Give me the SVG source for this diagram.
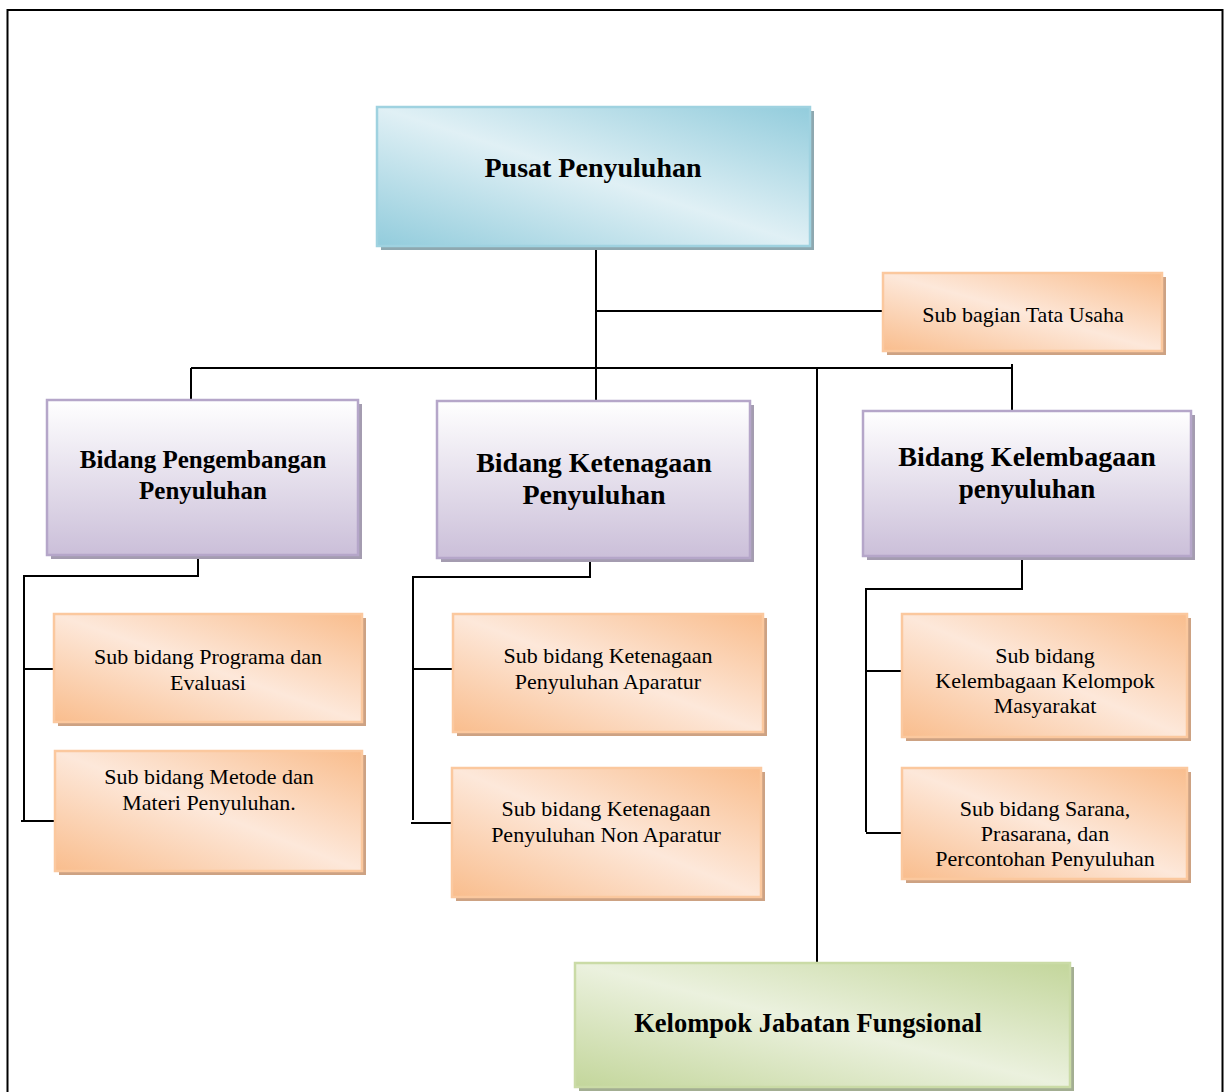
<svg xmlns="http://www.w3.org/2000/svg" width="1225" height="1092" viewBox="0 0 1225 1092">
<defs>
<linearGradient id="gBlue" x1="1" y1="0" x2="0" y2="1"><stop offset="0" stop-color="#92CCDC"/><stop offset="0.5" stop-color="#E0F0F5"/><stop offset="1" stop-color="#92CCDC"/></linearGradient>
<linearGradient id="gOrange" x1="1" y1="0" x2="0" y2="1"><stop offset="0" stop-color="#F9BD8D"/><stop offset="0.5" stop-color="#FDE8DA"/><stop offset="1" stop-color="#F9BD8D"/></linearGradient>
<linearGradient id="gGreen" x1="1" y1="0" x2="0" y2="1"><stop offset="0" stop-color="#C3D69B"/><stop offset="0.5" stop-color="#EBF1DE"/><stop offset="1" stop-color="#C3D69B"/></linearGradient>
<linearGradient id="gPurple" x1="0" y1="0" x2="0" y2="1"><stop offset="0" stop-color="#FFFFFF"/><stop offset="1" stop-color="#CBBFD9"/></linearGradient>
</defs>
<style>
.blue{fill:url(#gBlue);stroke:#9FD2E0;stroke-width:2.5}
.orange{fill:url(#gOrange);stroke:#FBC89E;stroke-width:2.5}
.green{fill:url(#gGreen);stroke:#CADBA6;stroke-width:2.5}
.purple{fill:url(#gPurple);stroke:#B5A6C9;stroke-width:2.5}
.shB{fill:#8EA8B0}.shO{fill:#CDA283}.shG{fill:#A3AE92}.shP{fill:#A49CB0}
.t{font-family:"Liberation Serif","Times New Roman",serif;fill:#000;text-anchor:middle}
.b{font-weight:bold}
.s{font-size:22px}
.conn{fill:none;stroke:#000;stroke-width:2}
</style>
<rect x="0" y="0" width="1225" height="1092" fill="#fff"/>
<rect x="7.5" y="10" width="1215" height="1100" fill="none" stroke="#000" stroke-width="2"/>

<g id="connectors" class="conn">
<path d="M596 247 V401"/>
<path d="M596 311 H883"/>
<path d="M191 368 H1012"/>
<path d="M191 368 V400"/>
<path d="M1012 364 V411"/>
<path d="M817 368 V963"/>
<path d="M198 557 V576 H24 V820"/>
<path d="M24 669 H54"/>
<path d="M21 821 H55"/>
<path d="M590 560 V577 H413 V820"/>
<path d="M413 669 H453"/>
<path d="M411 823 H452"/>
<path d="M1022 558 V589 H866 V832"/>
<path d="M866 671 H902"/>
<path d="M866 833 H902"/>
</g>

<g id="pusat">
<rect class="shB" x="381" y="111" width="433" height="139"/>
<rect class="blue" x="377" y="107" width="433" height="139"/>
<text class="t b" x="593" y="177" font-size="28">Pusat Penyuluhan</text>
</g>

<g id="subbagian">
<rect class="shO" x="887" y="277" width="279" height="78"/>
<rect class="orange" x="883" y="273" width="279" height="78"/>
<text class="t s" x="1023" y="322">Sub bagian Tata Usaha</text>
</g>

<g id="bidang-pengembangan">
<rect class="shP" x="51" y="404" width="311" height="155"/>
<rect class="purple" x="47" y="400" width="311" height="155"/>
<text class="t b" x="203" y="468" font-size="25">Bidang Pengembangan</text>
<text class="t b" x="203" y="499" font-size="25">Penyuluhan</text>
</g>

<g id="bidang-ketenagaan">
<rect class="shP" x="441" y="405" width="313" height="157"/>
<rect class="purple" x="437" y="401" width="313" height="157"/>
<text class="t b" x="594" y="472" font-size="28">Bidang Ketenagaan</text>
<text class="t b" x="594" y="504" font-size="28">Penyuluhan</text>
</g>

<g id="bidang-kelembagaan">
<rect class="shP" x="867" y="415" width="328" height="145"/>
<rect class="purple" x="863" y="411" width="328" height="145"/>
<text class="t b" x="1027" y="466" font-size="28">Bidang Kelembagaan</text>
<text class="t b" x="1027" y="498" font-size="27">penyuluhan</text>
</g>

<g id="sub-programa">
<rect class="shO" x="58" y="618" width="308" height="108"/>
<rect class="orange" x="54" y="614" width="308" height="108"/>
<text class="t s" x="208" y="664">Sub bidang Programa dan</text>
<text class="t s" x="208" y="690">Evaluasi</text>
</g>

<g id="sub-metode">
<rect class="shO" x="59" y="755" width="307" height="120"/>
<rect class="orange" x="55" y="751" width="307" height="120"/>
<text class="t s" x="209" y="784">Sub bidang Metode dan</text>
<text class="t s" x="209" y="810">Materi Penyuluhan.</text>
</g>

<g id="sub-aparatur">
<rect class="shO" x="457" y="618" width="310" height="118"/>
<rect class="orange" x="453" y="614" width="310" height="118"/>
<text class="t s" x="608" y="663">Sub bidang Ketenagaan</text>
<text class="t s" x="608" y="689">Penyuluhan Aparatur</text>
</g>

<g id="sub-nonaparatur">
<rect class="shO" x="456" y="772" width="309" height="129"/>
<rect class="orange" x="452" y="768" width="309" height="129"/>
<text class="t s" x="606" y="816">Sub bidang Ketenagaan</text>
<text class="t s" x="606" y="842">Penyuluhan Non Aparatur</text>
</g>

<g id="sub-kelompok-masyarakat">
<rect class="shO" x="906" y="618" width="285" height="123"/>
<rect class="orange" x="902" y="614" width="285" height="123"/>
<text class="t s" x="1045" y="663">Sub bidang</text>
<text class="t s" x="1045" y="688">Kelembagaan Kelompok</text>
<text class="t s" x="1045" y="713">Masyarakat</text>
</g>

<g id="sub-sarana">
<rect class="shO" x="906" y="772" width="285" height="111"/>
<rect class="orange" x="902" y="768" width="285" height="111"/>
<text class="t s" x="1045" y="816">Sub bidang Sarana,</text>
<text class="t s" x="1045" y="841">Prasarana, dan</text>
<text class="t s" x="1045" y="866">Percontohan Penyuluhan</text>
</g>

<g id="kelompok-jabatan">
<rect class="shG" x="579" y="967" width="495" height="124"/>
<rect class="green" x="575" y="963" width="495" height="124"/>
<text class="t b" x="808" y="1032" font-size="26.5">Kelompok Jabatan Fungsional</text>
</g>
</svg>
